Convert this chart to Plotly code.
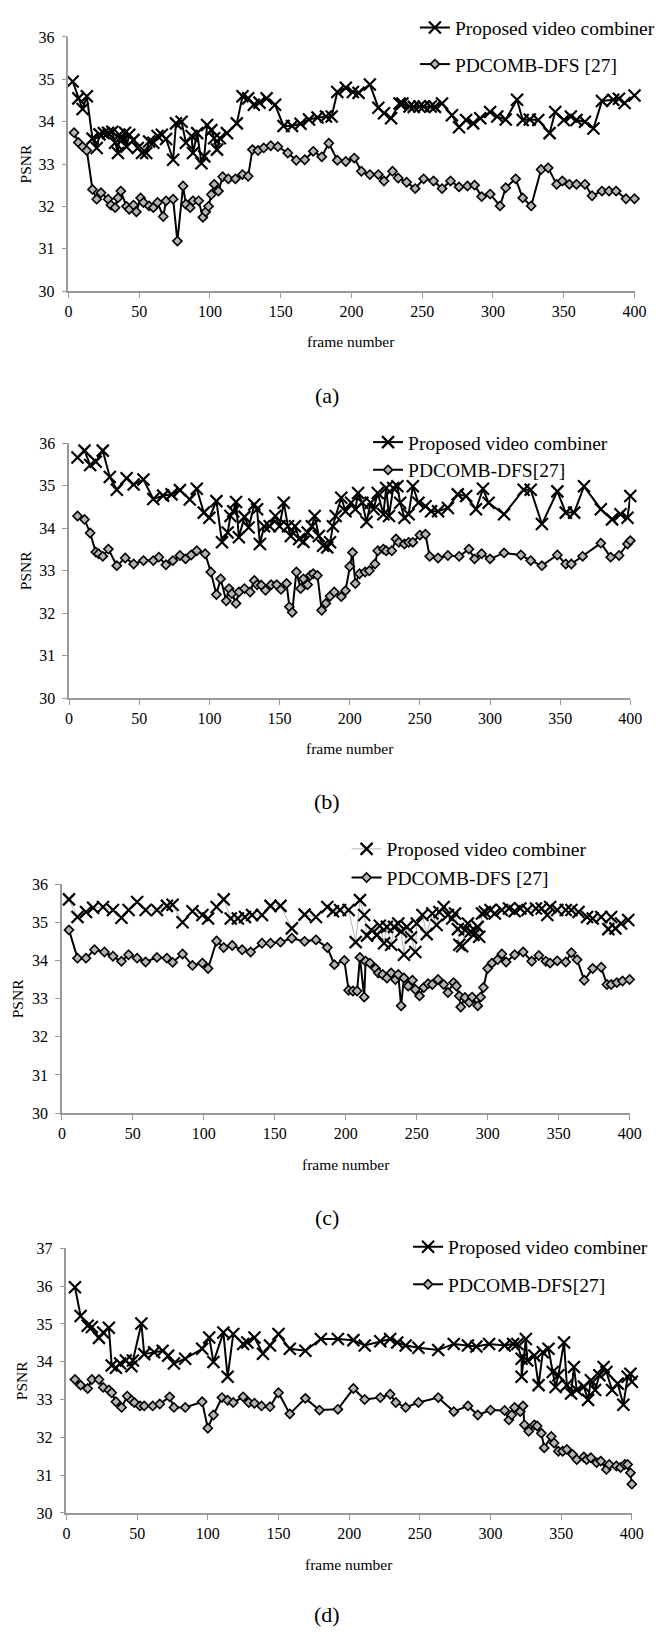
import plotly.graph_objects as go

# ---------------- data ----------------
a_prop_x = [3, 7, 10, 13, 17, 20, 22, 25, 28, 31, 33, 35, 36, 38, 40, 41, 43, 46, 49, 52, 55, 57, 60, 63, 66, 69, 74, 76, 80, 83, 87, 88, 91, 94, 96, 98, 101, 103, 105, 107, 112, 119, 123, 127, 131, 135, 140, 146, 152, 158, 164, 170, 176, 182, 186, 190, 196, 201, 205, 213, 219, 223, 228, 234, 236, 241, 244, 248, 251, 256, 259, 264, 271, 276, 281, 286, 291, 298, 303, 309, 317, 321, 326, 332, 340, 344, 350, 355, 359, 365, 371, 377, 385, 389, 393, 400]
a_prop_y = [34.95, 34.55, 34.3, 34.6, 33.6, 33.38, 33.7, 33.73, 33.74, 33.76, 33.5, 33.26, 33.69, 33.57, 33.74, 33.41, 33.69, 33.57, 33.38, 33.26, 33.26, 33.53, 33.5, 33.66, 33.69, 33.59, 33.1, 33.96, 34.0, 33.5, 33.66, 33.26, 33.73, 33.02, 33.18, 33.92, 33.8, 33.61, 33.34, 33.61, 33.73, 33.96, 34.6, 34.55, 34.4, 34.45, 34.55, 34.4, 33.9, 33.9, 33.95, 34.05, 34.1, 34.12, 34.12, 34.7, 34.8, 34.7, 34.68, 34.88, 34.33, 34.2, 34.08, 34.43, 34.43, 34.36, 34.35, 34.36, 34.36, 34.36, 34.35, 34.43, 34.15, 33.87, 34.04, 33.96, 34.08, 34.23, 34.12, 34.05, 34.52, 34.04, 34.05, 34.04, 33.73, 34.23, 34.04, 34.12, 34.04, 34.0, 33.84, 34.49, 34.52, 34.54, 34.44, 34.62]
a_pd_x = [4, 7, 10, 13, 17, 20, 23, 28, 30, 33, 35, 37, 41, 43, 46, 48, 51, 53, 57, 60, 63, 67, 69, 74, 77, 81, 83, 86, 88, 92, 95, 97, 99, 101, 103, 106, 109, 113, 118, 123, 127, 130, 134, 138, 143, 148, 155, 161, 167, 173, 179, 184, 190, 196, 202, 207, 213, 219, 223, 229, 233, 239, 245, 251, 258, 264, 270, 276, 282, 287, 292, 298, 305, 309, 316, 321, 327, 334, 339, 345, 349, 354, 359, 365, 370, 377, 382, 387, 394, 400]
a_pd_y = [33.74, 33.51, 33.41, 33.32, 32.4, 32.17, 32.32, 32.17, 32.03, 31.97, 32.2, 32.36, 32.0, 31.93, 32.03, 31.87, 32.2, 32.09, 32.01, 31.97, 32.09, 31.76, 32.13, 32.17, 31.18, 32.48, 32.05, 31.97, 32.13, 32.13, 31.74, 31.87, 32.0, 32.28, 32.52, 32.36, 32.7, 32.65, 32.65, 32.75, 32.71, 33.34, 33.32, 33.38, 33.43, 33.41, 33.26, 33.09, 33.1, 33.3, 33.17, 33.49, 33.09, 33.06, 33.14, 32.83, 32.75, 32.75, 32.6, 32.83, 32.67, 32.57, 32.42, 32.65, 32.6, 32.42, 32.6, 32.46, 32.48, 32.5, 32.23, 32.29, 32.01, 32.44, 32.65, 32.2, 32.01, 32.87, 32.91, 32.52, 32.6, 32.52, 32.52, 32.52, 32.25, 32.36, 32.36, 32.36, 32.18, 32.18]

b_prop_x = [6, 11, 15, 19, 24, 29, 34, 41, 46, 53, 60, 67, 73, 79, 86, 91, 96, 100, 105, 109, 113, 115, 117, 119, 121, 125, 128, 132, 134, 136, 139, 143, 147, 150, 153, 156, 158, 161, 164, 167, 170, 173, 175, 178, 181, 184, 186, 188, 190, 194, 197, 201, 204, 206, 209, 212, 215, 217, 220, 224, 226, 228, 231, 234, 236, 239, 242, 245, 249, 254, 258, 263, 270, 277, 283, 290, 295, 299, 310, 324, 329, 337, 348, 354, 360, 367, 379, 387, 393, 398, 400]
b_prop_y = [35.67, 35.83, 35.49, 35.57, 35.83, 35.21, 34.91, 35.18, 35.03, 35.15, 34.69, 34.77, 34.8, 34.9, 34.68, 34.93, 34.37, 34.25, 34.64, 33.67, 33.9, 34.29, 34.4, 34.62, 33.79, 34.27, 34.02, 34.56, 34.45, 33.63, 34.05, 34.05, 34.29, 34.05, 34.6, 34.05, 33.82, 34.05, 33.75, 33.68, 33.9, 34.05, 34.29, 33.82, 33.59, 33.55, 33.67, 34.05, 34.29, 34.72, 34.4, 34.6, 34.45, 34.83, 34.6, 34.15, 34.6, 34.45, 34.83, 34.33, 34.95, 34.29, 34.95, 34.99, 34.6, 34.25, 34.33, 34.99, 34.6, 34.52, 34.4, 34.4, 34.48, 34.8, 34.76, 34.45, 34.93, 34.6, 34.33, 34.91, 34.91, 34.1, 34.87, 34.37, 34.37, 34.99, 34.45, 34.21, 34.33, 34.25, 34.76]
b_pd_x = [6, 11, 15, 19, 21, 24, 28, 34, 40, 46, 53, 60, 64, 69, 74, 79, 83, 87, 91, 97, 101, 105, 108, 112, 114, 116, 119, 121, 125, 129, 132, 134, 137, 140, 144, 148, 151, 155, 157, 159, 162, 165, 167, 170, 172, 174, 177, 180, 183, 186, 189, 194, 197, 200, 202, 204, 207, 211, 214, 218, 220, 224, 226, 230, 233, 235, 239, 242, 245, 250, 254, 257, 263, 270, 278, 285, 289, 294, 300, 310, 322, 329, 337, 348, 354, 358, 366, 379, 386, 392, 398, 400]
b_pd_y = [34.29, 34.21, 33.89, 33.44, 33.4, 33.34, 33.51, 33.12, 33.3, 33.16, 33.24, 33.24, 33.32, 33.14, 33.24, 33.36, 33.28, 33.37, 33.47, 33.4, 32.97, 32.44, 32.81, 32.29, 32.58, 32.46, 32.23, 32.5, 32.58, 32.5, 32.77, 32.67, 32.66, 32.54, 32.67, 32.67, 32.56, 32.7, 32.15, 32.02, 32.97, 32.58, 32.81, 32.67, 32.89, 32.93, 32.89, 32.07, 32.23, 32.4, 32.5, 32.39, 32.53, 33.1, 33.43, 32.7, 32.93, 32.97, 33.0, 33.16, 33.47, 33.51, 33.47, 33.47, 33.75, 33.67, 33.63, 33.67, 33.67, 33.84, 33.86, 33.34, 33.3, 33.36, 33.34, 33.51, 33.28, 33.4, 33.28, 33.42, 33.37, 33.24, 33.12, 33.37, 33.16, 33.16, 33.34, 33.65, 33.32, 33.36, 33.63, 33.71]

c_prop_x = [5, 11, 17, 22, 29, 36, 42, 47, 53, 59, 67, 74, 78, 85, 92, 99, 103, 109, 114, 119, 124, 129, 134, 141, 147, 154, 162, 171, 179, 187, 191, 196, 202, 207, 210, 213, 215, 218, 222, 224, 227, 229, 232, 234, 237, 239, 241, 243, 246, 249, 250, 254, 257, 261, 264, 266, 269, 272, 275, 277, 279, 280, 282, 284, 286, 288, 290, 293, 294, 296, 298, 302, 305, 310, 315, 319, 323, 328, 334, 338, 342, 344, 349, 355, 359, 364, 370, 374, 380, 385, 387, 390, 394, 399]
c_prop_y = [35.6, 35.14, 35.27, 35.38, 35.4, 35.32, 35.12, 35.32, 35.53, 35.32, 35.32, 35.43, 35.46, 35.0, 35.29, 35.19, 35.1, 35.4, 35.6, 35.1, 35.1, 35.14, 35.19, 35.19, 35.43, 35.43, 34.84, 35.2, 35.14, 35.4, 35.29, 35.32, 35.32, 34.48, 35.58, 35.19, 34.65, 34.8, 34.67, 34.91, 34.45, 34.88, 34.41, 34.88, 34.97, 34.76, 34.15, 34.88, 34.6, 34.22, 34.97, 35.19, 34.69, 35.23, 34.93, 35.27, 35.4, 35.19, 35.1, 35.23, 34.82, 34.41, 34.37, 34.8, 34.97, 34.76, 34.67, 34.88, 34.62, 35.23, 35.27, 35.32, 35.23, 35.32, 35.36, 35.29, 35.36, 35.32, 35.36, 35.36, 35.19, 35.4, 35.32, 35.32, 35.32, 35.27, 35.14, 35.1, 35.14, 34.82, 35.14, 34.84, 34.97, 35.06]
c_pd_x = [5, 11, 17, 23, 30, 36, 42, 47, 53, 59, 67, 74, 78, 85, 92, 99, 103, 109, 114, 120, 127, 133, 141, 147, 154, 162, 171, 179, 187, 192, 199, 202, 205, 208, 210, 213, 214, 217, 221, 223, 226, 229, 232, 235, 237, 239, 241, 244, 247, 249, 252, 255, 258, 261, 265, 269, 272, 276, 278, 280, 281, 284, 287, 289, 293, 295, 297, 300, 303, 307, 310, 313, 319, 325, 331, 336, 341, 344, 349, 355, 359, 363, 368, 374, 380, 384, 387, 391, 395, 400]
c_pd_y = [34.8, 34.06, 34.06, 34.28, 34.22, 34.11, 33.98, 34.15, 34.06, 33.96, 34.08, 34.06, 33.95, 34.17, 33.87, 33.93, 33.79, 34.51, 34.34, 34.39, 34.28, 34.22, 34.45, 34.45, 34.48, 34.58, 34.5, 34.54, 34.34, 33.89, 34.0, 33.22, 33.2, 33.2, 34.08, 33.04, 33.98, 33.93, 33.79, 33.67, 33.63, 33.54, 33.67, 33.5, 33.63, 32.81, 33.54, 33.33, 33.48, 33.24, 33.07, 33.29, 33.39, 33.37, 33.5, 33.37, 33.16, 33.42, 33.33, 33.07, 32.78, 33.03, 32.9, 33.04, 32.81, 33.04, 33.29, 33.79, 33.93, 34.02, 34.17, 33.96, 34.15, 34.22, 33.98, 34.13, 33.98, 33.93, 33.99, 33.96, 34.2, 34.02, 33.48, 33.79, 33.82, 33.37, 33.37, 33.42, 33.46, 33.5]

d_prop_x = [6, 10, 15, 18, 23, 26, 30, 32, 35, 38, 42, 46, 47, 53, 55, 62, 68, 72, 76, 84, 96, 101, 104, 111, 114, 118, 125, 128, 133, 139, 144, 150, 158, 169, 180, 192, 203, 211, 222, 229, 234, 240, 249, 263, 274, 284, 290, 299, 310, 316, 319, 322, 322, 325, 326, 331, 334, 337, 341, 344, 346, 348, 352, 354, 357, 359, 361, 366, 369, 371, 374, 377, 380, 382, 386, 390, 394, 397, 399, 400]
d_prop_y = [35.97, 35.21, 34.95, 34.92, 34.63, 34.77, 34.9, 33.9, 33.84, 33.95, 34.03, 33.88, 34.03, 35.01, 34.2, 34.25, 34.29, 34.16, 33.95, 34.08, 34.34, 34.64, 33.99, 34.77, 33.6, 34.73, 34.47, 34.51, 34.64, 34.21, 34.43, 34.73, 34.34, 34.29, 34.6, 34.6, 34.57, 34.43, 34.54, 34.6, 34.51, 34.43, 34.37, 34.31, 34.47, 34.43, 34.4, 34.47, 34.43, 34.47, 34.47, 34.08, 33.6, 34.6, 34.03, 34.16, 33.38, 34.25, 34.34, 33.73, 33.33, 33.64, 34.51, 33.38, 33.16, 33.86, 33.25, 33.34, 32.99, 33.51, 33.25, 33.64, 33.86, 33.73, 33.25, 33.42, 32.86, 33.6, 33.68, 33.47]
d_pd_x = [6, 10, 15, 18, 23, 26, 30, 32, 35, 39, 43, 46, 48, 52, 55, 61, 66, 73, 76, 84, 96, 100, 104, 110, 114, 118, 125, 129, 133, 138, 144, 150, 158, 169, 179, 192, 203, 211, 222, 229, 233, 240, 249, 263, 274, 284, 291, 300, 310, 313, 315, 317, 321, 323, 324, 327, 331, 333, 336, 338, 343, 345, 348, 351, 354, 358, 361, 366, 368, 371, 375, 378, 382, 384, 389, 392, 395, 397, 399, 400]
d_pd_y = [33.53, 33.38, 33.29, 33.53, 33.53, 33.32, 33.25, 33.18, 32.94, 32.79, 33.09, 32.98, 32.92, 32.83, 32.83, 32.83, 32.88, 33.07, 32.79, 32.79, 32.94, 32.24, 32.59, 33.05, 32.98, 32.92, 33.07, 32.92, 32.9, 32.83, 32.81, 33.18, 32.62, 33.03, 32.72, 32.74, 33.29, 33.0, 33.05, 33.14, 32.92, 32.79, 32.92, 33.05, 32.68, 32.83, 32.59, 32.72, 32.71, 32.46, 32.59, 32.79, 32.68, 32.83, 32.33, 32.16, 32.33, 32.3, 32.11, 31.72, 32.02, 31.85, 31.63, 31.63, 31.68, 31.55, 31.41, 31.48, 31.41, 31.46, 31.33, 31.37, 31.15, 31.28, 31.24, 31.2, 31.28, 31.28, 31.06, 30.76]

panel_labels = ["(a)", "(b)", "(c)", "(d)"]
prop_names = ["Proposed video combiner"] * 4
pd_names = ["PDCOMB-DFS [27]", "PDCOMB-DFS[27]", "PDCOMB-DFS [27]", "PDCOMB-DFS[27]"]
y_ranges = [[30, 36], [30, 36], [30, 36], [30, 37]]
x_title = "frame number"
y_title = "PSNR"

# ---------------- layout geometry (pixels) ----------------
W, H = 667, 1637
FONT = "Liberation Serif"
# plot area boxes: left, right, top, bottom
boxes = [(66, 646, 29.3, 286), (66.7, 641.7, 440, 697.3),
         (59.3, 641, 885.3, 1116.7), (64, 643.3, 1253.3, 1520.7)]
leg_pos = [  # text start x, y of entry 1, y of entry 2
    (457, 20, 57), (409, 439, 467), (387, 850, 879), (450, 1252, 1290)]
panel_label_y = [392, 802, 1222, 1623]
xtitle_y = [337, 748, 1169, 1573]
ytitle_x = [22, 22, 14, 18]

def px(x):
    return x / W

def py(y):
    return 1 - y / H

fig = go.Figure()
series = [(a_prop_x, a_prop_y, a_pd_x, a_pd_y), (b_prop_x, b_prop_y, b_pd_x, b_pd_y),
          (c_prop_x, c_prop_y, c_pd_x, c_pd_y), (d_prop_x, d_prop_y, d_pd_x, d_pd_y)]

annotations = []
layout_extra = {}
for i, (pxs, pys, dxs, dys) in enumerate(series):
    n = "" if i == 0 else str(i + 1)
    xa, ya = "x" + n, "y" + n
    lg1 = "legend" if i == 0 else "legend" + str(2 * i + 1)
    lg2 = "legend" + str(2 * i + 2)
    prop_line = dict(color="#a0a0a0", width=0.8) if i == 2 else dict(color="black", width=2)
    fig.add_trace(go.Scatter(
        x=pxs, y=pys, mode="lines+markers", name=prop_names[i], xaxis=xa, yaxis=ya,
        legend=lg1, cliponaxis=False, line=prop_line,
        marker=dict(symbol="x-thin", size=12, line=dict(color="black", width=2.2), color="black")))
    fig.add_trace(go.Scatter(
        x=dxs, y=dys, mode="lines+markers", name=pd_names[i], xaxis=xa, yaxis=ya,
        legend=lg2, cliponaxis=False, line=dict(color="black", width=2),
        marker=dict(symbol="diamond", size=7, color="#b4b4b4", line=dict(color="black", width=1.6))))

    l, r, t, b = boxes[i]
    axcommon = dict(showgrid=False, zeroline=False, showline=True, linecolor="#9a9a9a",
                    linewidth=1.5, ticks="outside", ticklen=5, tickcolor="#9a9a9a", tickwidth=1.2,
                    tickfont=dict(family=FONT, size=16, color="black"))
    layout_extra["xaxis" + n] = dict(axcommon, domain=[px(l), px(r)], range=[0, 400], dtick=50,
                                     tick0=0, anchor=ya)
    layout_extra["yaxis" + n] = dict(axcommon, domain=[py(b), py(t)], range=y_ranges[i], dtick=1,
                                     tick0=30, anchor=xa, ticklabelstandoff=4)
    tx, y1, y2 = leg_pos[i]
    for lg, yy in ((lg1, y1), (lg2, y2)):
        layout_extra[lg] = dict(x=px(tx - 36), y=py(yy), xanchor="left", yanchor="middle",
                                bgcolor="rgba(0,0,0,0)", borderwidth=0,
                                font=dict(family=FONT, size=19.5, color="black"))
    annotations.append(dict(text=panel_labels[i], x=px(331), y=py(panel_label_y[i]), xref="paper",
                            yref="paper", showarrow=False, xanchor="center", yanchor="middle",
                            font=dict(family=FONT, size=22, color="black")))
    annotations.append(dict(text=x_title, x=px((l + r) / 2), y=py(xtitle_y[i]), xref="paper",
                            yref="paper", showarrow=False, xanchor="center", yanchor="middle",
                            font=dict(family=FONT, size=15.5, color="black")))
    annotations.append(dict(text=y_title, x=px(ytitle_x[i]), y=py((t + b) / 2), xref="paper",
                            yref="paper", showarrow=False, xanchor="center", yanchor="middle",
                            textangle=-90, font=dict(family=FONT, size=15.5, color="black")))

fig.update_layout(width=W, height=H, margin=dict(l=0, r=0, t=0, b=0),
                  paper_bgcolor="white", plot_bgcolor="white", showlegend=True,
                  annotations=annotations, **layout_extra)
fig.write_html("out.html")
